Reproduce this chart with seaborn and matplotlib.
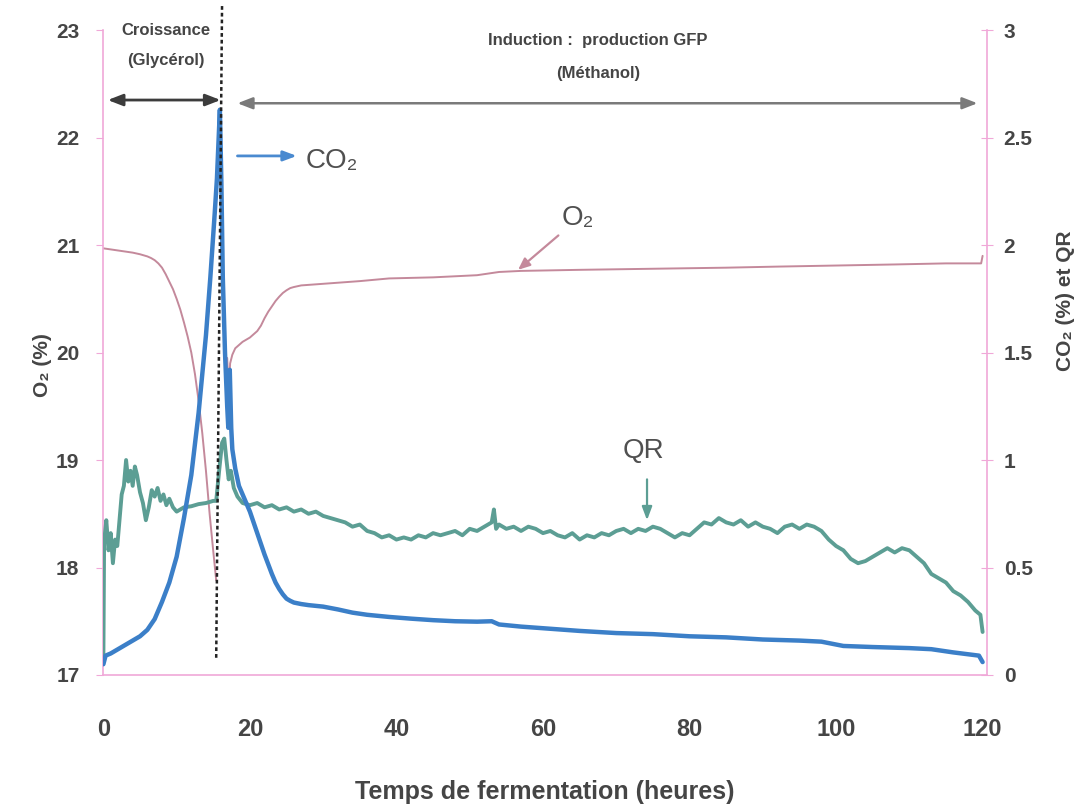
import matplotlib
matplotlib.use("Agg")
import matplotlib.pyplot as plt
import seaborn as sns

# ---------------- data ----------------
o2_growth_time = [0, 1, 2, 3, 4, 5, 6, 6.5, 7, 7.5, 8, 8.5, 9, 9.5, 10, 10.5, 11, 11.5,
                  12, 12.5, 13, 13.5, 14, 14.5, 15, 15.4]
o2_growth = [20.97, 20.96, 20.95, 20.94, 20.93, 20.915, 20.895, 20.88, 20.86, 20.83,
             20.79, 20.73, 20.66, 20.59, 20.5, 20.4, 20.28, 20.15, 20.0, 19.8, 19.55,
             19.25, 18.9, 18.5, 18.15, 17.88]

o2_induction_time = [16.9, 17.1, 17.3, 17.6, 18, 18.5, 19, 19.5, 20, 20.5, 21, 21.5, 22,
                     22.5, 23, 23.5, 24, 24.5, 25, 25.5, 26, 27, 28, 30, 32, 35, 39, 45,
                     51, 54, 57, 65, 75, 85, 92, 100, 108, 115, 119.8, 120]
o2_induction = [19.95, 19.65, 19.9, 19.98, 20.04, 20.07, 20.1, 20.12, 20.14, 20.17, 20.2,
                20.25, 20.32, 20.38, 20.43, 20.48, 20.52, 20.555, 20.58, 20.6, 20.61,
                20.625, 20.63, 20.64, 20.65, 20.665, 20.69, 20.7, 20.72, 20.75, 20.76,
                20.77, 20.78, 20.79, 20.8, 20.81, 20.82, 20.83, 20.83, 20.9]

co2_time = [0, 0.3, 1, 2, 3, 4, 5, 6, 7, 8, 9, 10, 11, 12, 13, 14, 14.6, 15.2, 15.5,
            15.9, 16.1, 16.3, 16.6, 16.9, 17.05, 17.25, 17.45, 17.6, 18, 18.5, 19, 20,
            21, 22, 23, 23.5, 24, 24.5, 25, 25.5, 26, 27, 28, 30, 32, 34, 36, 39, 42,
            45, 48, 51, 53, 54, 57, 61, 65, 70, 75, 80, 85, 90, 95, 98, 101, 105, 110,
            113, 116, 119.5, 120]
co2 = [0.05, 0.09, 0.10, 0.12, 0.14, 0.16, 0.18, 0.21, 0.26, 0.34, 0.43, 0.55, 0.73,
       0.93, 1.22, 1.58, 1.85, 2.15, 2.31, 2.63, 2.3, 1.85, 1.5, 1.25, 1.15, 1.42, 1.15,
       1.05, 0.96, 0.88, 0.84, 0.76, 0.66, 0.56, 0.47, 0.43, 0.40, 0.375, 0.355, 0.345,
       0.337, 0.33, 0.325, 0.318, 0.305, 0.29, 0.28, 0.27, 0.262, 0.255, 0.25, 0.248,
       0.25, 0.235, 0.225, 0.215, 0.205, 0.195, 0.19, 0.18, 0.175, 0.165, 0.16, 0.155,
       0.135, 0.13, 0.125, 0.12, 0.105, 0.09, 0.06]

qr_time = [0, 0.1, 0.4, 0.7, 1.0, 1.3, 1.6, 1.9, 2.2, 2.5, 2.8, 3.1, 3.4, 3.7, 4.0,
           4.3, 4.6, 5.0, 5.4, 5.8, 6.2, 6.6, 7.0, 7.4, 7.8, 8.2, 8.6, 9.0, 9.5, 10,
           10.5, 11, 12, 13, 14, 15, 15.4, 15.8, 16.2, 16.5, 16.8, 17.1, 17.4, 17.8,
           18.3, 19, 20, 21, 22, 23, 24, 25, 26, 27, 28, 29, 30, 31, 32, 33, 34, 35,
           36, 37, 38, 39, 40, 41, 42, 43, 44, 45, 46, 47, 48, 49, 50, 51, 52, 53,
           53.3, 53.6, 54, 55, 56, 57, 58, 59, 60, 61, 62, 63, 64, 65, 66, 67, 68, 69,
           70, 71, 72, 73, 74, 75, 76, 77, 78, 79, 80, 81, 82, 83, 84, 85, 86, 87, 88,
           89, 90, 91, 92, 93, 94, 95, 96, 97, 98, 99, 100, 101, 102, 103, 104, 105,
           106, 107, 108, 109, 110, 111, 112, 113, 114, 115, 116, 117, 118, 119,
           119.7, 120]
qr = [0.07, 0.62, 0.72, 0.58, 0.66, 0.52, 0.63, 0.6, 0.72, 0.84, 0.88, 1.0, 0.9, 0.95,
      0.88, 0.97, 0.93, 0.85, 0.8, 0.72, 0.78, 0.86, 0.83, 0.87, 0.81, 0.84, 0.79, 0.82,
      0.78, 0.76, 0.77, 0.78, 0.785, 0.795, 0.80, 0.81, 0.81, 0.95, 1.08, 1.10, 1.0,
      0.91, 0.95, 0.87, 0.83, 0.80, 0.79, 0.80, 0.78, 0.79, 0.77, 0.78, 0.76, 0.77,
      0.75, 0.76, 0.74, 0.73, 0.72, 0.71, 0.69, 0.70, 0.67, 0.66, 0.64, 0.65, 0.63,
      0.64, 0.63, 0.65, 0.64, 0.66, 0.65, 0.66, 0.67, 0.65, 0.68, 0.67, 0.69, 0.71,
      0.77, 0.68, 0.70, 0.68, 0.69, 0.67, 0.69, 0.68, 0.66, 0.67, 0.65, 0.64, 0.66,
      0.63, 0.65, 0.64, 0.66, 0.65, 0.67, 0.68, 0.66, 0.68, 0.67, 0.69, 0.68, 0.66,
      0.64, 0.66, 0.65, 0.68, 0.71, 0.70, 0.73, 0.71, 0.70, 0.72, 0.69, 0.71, 0.69,
      0.68, 0.66, 0.69, 0.70, 0.68, 0.70, 0.69, 0.67, 0.63, 0.60, 0.58, 0.54, 0.52,
      0.53, 0.55, 0.57, 0.59, 0.57, 0.59, 0.58, 0.55, 0.52, 0.47, 0.45, 0.43, 0.39,
      0.37, 0.34, 0.30, 0.28, 0.20]

phase_line_time = [15.4, 16.2]
phase_line_o2 = [17.16, 23.25]

x_ticks = [0, 20, 40, 60, 80, 100, 120]
o2_ticks = [17, 18, 19, 20, 21, 22, 23]
right_ticks = [0, 0.5, 1, 1.5, 2, 2.5, 3]
right_tick_labels = ["0", "0.5", "1", "1.5", "2", "2.5", "3"]

# ---------------- style ----------------
sns.set_style("white")
plt.rcParams["font.family"] = ["Liberation Sans", "DejaVu Sans"]
NARROW = ["Liberation Sans Narrow", "Liberation Sans", "DejaVu Sans"]

PINK_SPINE = "#f0a8d8"
TXT = "#454545"
C_O2 = "#c4899b"
C_CO2 = "#3b7fc8"
C_QR = "#5c9e94"

fig = plt.figure(figsize=(10.82, 8.07), dpi=100)
ax = fig.add_axes([0.0952, 0.1636, 0.817, 0.799])
ax2 = ax.twinx()

# ---------------- lines ----------------
sns.lineplot(x=o2_growth_time, y=o2_growth, ax=ax, color=C_O2, lw=1.4, sort=False)
sns.lineplot(x=o2_induction_time, y=o2_induction, ax=ax, color=C_O2, lw=1.4, sort=False)

sns.lineplot(x=qr_time, y=qr, ax=ax2, color=C_QR, lw=2.8, sort=False)
sns.lineplot(x=co2_time, y=co2, ax=ax2, color=C_CO2, lw=3.2, sort=False)

ax2.plot(phase_line_time, [(v - 17) / 2 for v in phase_line_o2], color="#222222",
         lw=1.8, ls=(0, (1.5, 1.2)), clip_on=False, zorder=5)

# ---------------- axes ----------------
ax.set_xlim(-0.05, 120.6)
ax.set_ylim(17, 23)
ax2.set_ylim(0, 3)

ax.set_xticks(x_ticks)
ax.set_yticks(o2_ticks)
ax2.set_yticks(right_ticks)
ax2.set_yticklabels(right_tick_labels)

for a in (ax, ax2):
    for s in a.spines.values():
        s.set_color(PINK_SPINE)
        s.set_linewidth(1.2)
    a.spines["top"].set_visible(False)
ax.spines["right"].set_visible(False)
ax2.spines["left"].set_visible(False)
ax2.spines["bottom"].set_visible(False)

ax.tick_params(axis="y", direction="out", length=5, color=PINK_SPINE, pad=12,
               labelsize=15, labelcolor=TXT)
ax.tick_params(axis="x", direction="out", length=5, color=PINK_SPINE, pad=26,
               labelsize=17, labelcolor=TXT)
ax2.tick_params(axis="y", direction="inout", length=8, color=PINK_SPINE, pad=8,
                labelsize=15, labelcolor=TXT)
for lab in ax.get_yticklabels() + ax2.get_yticklabels():
    lab.set_fontweight("bold")
for lab in ax.get_xticklabels():
    lab.set_fontweight("bold")
    lab.set_family(NARROW)

ax.set_xlabel("Temps de fermentation (heures)", fontsize=18, fontweight="bold",
              color=TXT, family=NARROW)
ax.xaxis.set_label_coords(0.5, -0.163)
ax.set_ylabel("O₂ (%)", fontsize=15, fontweight="bold", color=TXT)
ax.yaxis.set_label_coords(-0.058, 0.48)
ax2.set_ylabel("CO₂ (%) et QR", fontsize=15, fontweight="bold", color=TXT)
ax2.yaxis.set_label_coords(1.078, 0.58)

# ---------------- annotations ----------------
ax.text(8.5, 23.0, "Croissance", ha="center", va="center", fontsize=12,
        fontweight="bold", color=TXT, family=NARROW, clip_on=False)
ax.text(8.5, 22.72, "(Glycérol)", ha="center", va="center", fontsize=12,
        fontweight="bold", color=TXT, family=NARROW, clip_on=False)
ax.text(67.5, 22.9, "Induction :  production GFP", ha="center", va="center",
        fontsize=12, fontweight="bold", color=TXT, family=NARROW)
ax.text(67.5, 22.6, "(Méthanol)", ha="center", va="center", fontsize=12,
        fontweight="bold", color=TXT, family=NARROW)

ax.annotate("", xy=(0.6, 22.35), xytext=(16.0, 22.35),
            arrowprops=dict(arrowstyle="<|-|>,head_length=0.9,head_width=0.35",
                            color="#3c3c3c", lw=2, shrinkA=0, shrinkB=0))
ax.annotate("", xy=(18.3, 22.32), xytext=(119.3, 22.32),
            arrowprops=dict(arrowstyle="<|-|>,head_length=0.9,head_width=0.35",
                            color="#7a7a7a", lw=1.8, shrinkA=0, shrinkB=0))

ax2.annotate("", xy=(26.4, 2.415), xytext=(18.3, 2.415),
             arrowprops=dict(arrowstyle="-|>,head_length=0.8,head_width=0.3",
                             color="#4a8ad0", lw=2, shrinkA=0, shrinkB=0))
ax2.text(27.6, 2.39, "CO₂", ha="left", va="center", fontsize=20, color="#505050")

ax.annotate("", xy=(56.6, 20.77), xytext=(62.1, 21.09),
            arrowprops=dict(arrowstyle="-|>,head_length=0.7,head_width=0.3",
                            color=C_O2, lw=1.6, shrinkA=0, shrinkB=0))
ax.text(64.8, 21.25, "O₂", ha="center", va="center", fontsize=20, color="#505050")

ax2.annotate("", xy=(74.2, 0.72), xytext=(74.2, 0.91),
             arrowprops=dict(arrowstyle="-|>,head_length=0.8,head_width=0.3",
                             color=C_QR, lw=1.6, shrinkA=0, shrinkB=0))
ax2.text(73.7, 1.04, "QR", ha="center", va="center", fontsize=20, color="#505050")

fig.savefig("out.png", dpi=100, facecolor="white")
